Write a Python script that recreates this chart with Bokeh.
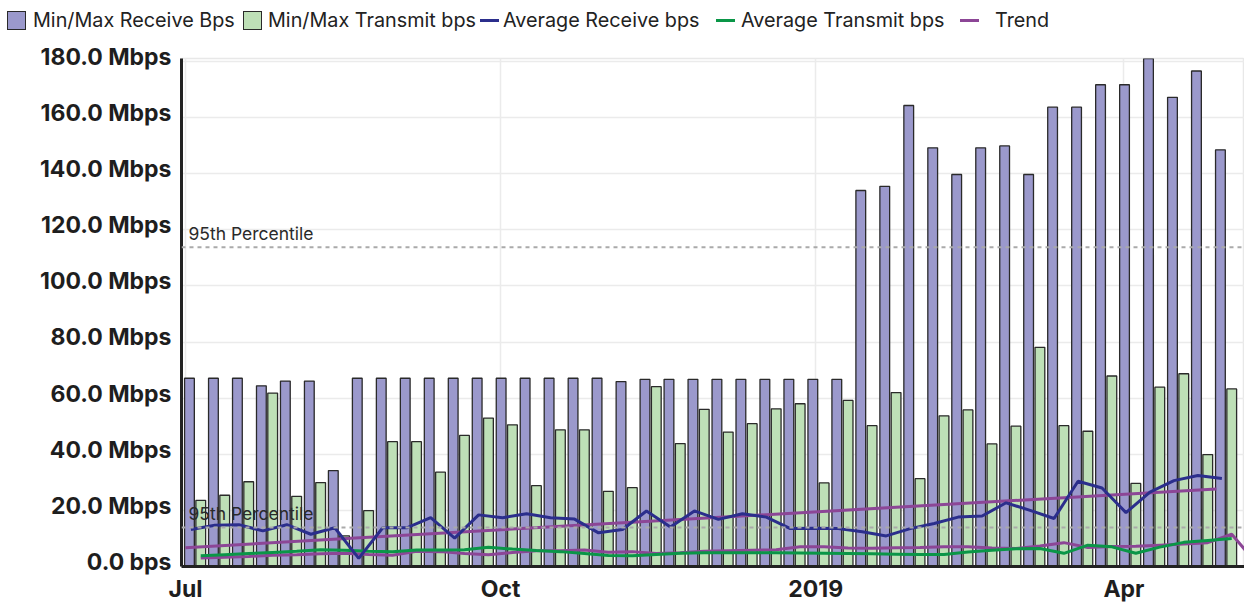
import pandas as pd
from bokeh.plotting import figure
from bokeh.layouts import column
from bokeh.models import (ColumnDataSource, Span, Label, FixedTicker, Range1d, Div)
from bokeh.transform import dodge
from bokeh.embed import file_html
from bokeh.resources import INLINE

# ---------------- data ----------------
first_week = "2018-07-01"
n_weeks = 44
weeks = pd.date_range(first_week, periods=n_weeks, freq="7D")
weeks_ext = pd.date_range(first_week, periods=n_weeks + 1, freq="7D")

# Min/Max Receive (Mbps)
recv_max = [67.1, 67.1, 67.1, 64.4, 66.1, 66.1, 34.2, 67.1, 67.1, 67.1,
            67.1, 67.1, 67.1, 67.1, 67.1, 67.1, 67.1, 67.1, 65.9, 66.7,
            66.7, 66.7, 66.7, 66.7, 66.7, 66.7, 66.7, 66.7, 134.0, 135.5,
            164.3, 149.2, 139.7, 149.2, 149.9, 139.7, 163.7, 163.7, 171.7, 171.7,
            182.0, 167.2, 176.6, 148.5]
# Min/Max Transmit (Mbps)
trans_max = [23.6, 25.4, 30.2, 61.8, 25.0, 29.9, 10.9, 19.9, 44.5, 44.5,
             33.6, 46.7, 52.9, 50.5, 28.8, 48.7, 48.7, 26.8, 28.1, 64.1,
             43.8, 56.0, 47.9, 50.9, 56.2, 58.0, 29.8, 59.2, 50.2, 62.0,
             31.3, 53.7, 55.8, 43.7, 50.0, 78.1, 50.2, 48.2, 67.9, 29.6,
             63.9, 68.7, 39.9, 63.3]
# Average Receive (Mbps)
avg_recv = [13.2, 14.7, 14.9, 12.7, 14.9, 11.5, 13.8, 2.9, 13.8, 13.8,
            17.4, 10.1, 18.4, 17.4, 18.8, 17.4, 16.9, 12.0, 13.2, 19.8,
            14.1, 19.8, 16.8, 18.8, 17.6, 13.5, 13.6, 13.5, 12.4, 10.9,
            13.5, 15.3, 17.6, 18.0, 22.7, 20.0, 17.1, 30.4, 28.0, 19.2,
            26.5, 30.6, 32.4, 31.4]
# Average Transmit (Mbps)
avg_trans = [3.8, 4.2, 4.6, 5.0, 5.4, 6.0, 5.8, 5.4, 5.3, 5.9,
             5.9, 6.0, 6.9, 6.2, 5.7, 5.3, 4.6, 3.9, 3.8, 4.3,
             4.7, 4.9, 4.9, 4.9, 4.9, 4.8, 4.7, 4.6, 4.5, 4.4,
             4.3, 4.3, 5.2, 5.8, 6.3, 6.4, 4.7, 7.6, 7.0, 4.7,
             6.9, 8.6, 9.3, 10.0]
# Transmit trend (Mbps), one point per week plus one beyond the last
trend_trans = [3.0, 3.3, 3.6, 4.0, 4.2, 4.5, 4.7, 4.3, 4.0, 5.4,
               5.3, 4.6, 4.2, 5.0, 5.6, 5.6, 5.9, 5.1, 5.3, 4.6,
               4.9, 5.4, 5.6, 5.8, 6.0, 7.0, 7.0, 6.6, 6.5, 6.7,
               6.8, 7.0, 7.0, 6.6, 6.4, 7.3, 8.5, 6.8, 7.1, 7.2,
               7.6, 8.0, 8.5, 11.5, 1.5]
# Receive trend (Mbps) at first and last week
trend_recv = [6.7, 27.6]

p95_recv = 113.8
p95_trans = 13.9

x_tick_dates = ["2018-07-01", "2018-10-01", "2019-01-01", "2019-04-01"]
x_tick_labels = ["Jul", "Oct", "2019", "Apr"]
y_ticks = [0, 20, 40, 60, 80, 100, 120, 140, 160, 180]
y_tick_labels = ["0.0 bps", "20.0 Mbps", "40.0 Mbps", "60.0 Mbps", "80.0 Mbps",
                 "100.0 Mbps", "120.0 Mbps", "140.0 Mbps", "160.0 Mbps", "180.0 Mbps"]

legend_labels = ["Min/Max Receive Bps", "Min/Max Transmit bps",
                 "Average Receive bps", "Average Transmit bps", "Trend"]

# ---------------- styling ----------------
DAY = 86400000.0
FONT = "Inter"
RECV_FILL = "#9b99cc"
TRANS_FILL = "#bee0b7"
BAR_LINE = "#2a2a2a"
BLUE = "#2b2e8c"
GREEN = "#0a9647"
PURPLE = "#8c4696"
W = 1244
LEG_H = 40


def ms(d):
    return pd.Timestamp(d).value / 1e6


src = ColumnDataSource(dict(week=weeks, recv=recv_max, trans=trans_max,
                            avg_recv=avg_recv, avg_trans=avg_trans))
src_tr = ColumnDataSource(dict(week=weeks_ext, tr=trend_trans))
src_trend = ColumnDataSource(dict(week=[weeks[0], weeks[-1]], tr=trend_recv))

x_range = Range1d(start=ms(weeks[0]) - 1.15 * DAY, end=ms(weeks[-1]) + 8.2 * DAY)
y_range = Range1d(start=0, end=181.05)

p = figure(width=W, height=605 - LEG_H, x_axis_type="datetime",
           x_range=x_range, y_range=y_range,
           output_backend="svg", toolbar_location=None,
           min_border_left=181, min_border_right=0,
           min_border_top=58 - LEG_H, min_border_bottom=37)
p.background_fill_color = "white"
p.border_fill_color = "white"
p.outline_line_color = "#e8e8e8"
p.outline_line_width = 1.5

bw = 2.85 * DAY
bar_style = dict(line_color=BAR_LINE, line_width=1.3)
p.vbar(x=dodge("week", 1.17 * DAY, range=x_range), top="recv", bottom=0,
       width=bw, source=src, fill_color=RECV_FILL, **bar_style)
p.vbar(x=dodge("week", 4.47 * DAY, range=x_range), top="trans", bottom=0,
       width=bw, source=src, fill_color=TRANS_FILL, **bar_style)

for val in (p95_recv, p95_trans):
    p.add_layout(Span(location=val, dimension="width", line_color="#aaaaaa",
                      line_dash="4 4", line_width=2))
    p.add_layout(Label(x=x_range.start, y=val, x_offset=7, y_offset=3,
                       text="95th Percentile", text_font=FONT,
                       text_font_size="17.5px", text_color="#2a2a2a",
                       text_baseline="bottom"))

p.line(x="week", y="tr", source=src_trend, line_color=PURPLE, line_width=3)
p.line(x=dodge("week", 4.47 * DAY, range=x_range), y="tr", source=src_tr,
       line_color=PURPLE, line_width=3)
p.line(x=dodge("week", 4.47 * DAY, range=x_range), y="avg_trans",
       source=src, line_color=GREEN, line_width=3)
p.line(x=dodge("week", 1.6 * DAY, range=x_range), y="avg_recv",
       source=src, line_color=BLUE, line_width=3)

# axes
p.xaxis.ticker = FixedTicker(ticks=[ms(d) for d in x_tick_dates])
p.xaxis.major_label_overrides = {ms(d): lab for d, lab in zip(x_tick_dates, x_tick_labels)}
p.yaxis.ticker = FixedTicker(ticks=y_ticks)
p.yaxis.major_label_overrides = {t: lab + "\n " for t, lab in zip(y_ticks, y_tick_labels)}
for ax in (p.xaxis[0], p.yaxis[0]):
    ax.axis_line_color = "#222222"
    ax.axis_line_width = 3
    ax.major_tick_line_color = None
    ax.minor_tick_line_color = None
    ax.major_tick_out = 0
    ax.major_tick_in = 0
    ax.major_label_text_font = FONT
    ax.major_label_text_font_size = "23px"
    ax.major_label_text_font_style = "bold"
    ax.major_label_text_color = "#1e1e1e"
p.yaxis.major_label_standoff = 10
p.yaxis.major_label_text_line_height = 0.33
p.xaxis.major_label_standoff = 8

p.xgrid.grid_line_color = "#ebebeb"
p.xgrid.grid_line_width = 1.5
p.ygrid.grid_line_color = "#ebebeb"
p.ygrid.grid_line_width = 1.5

# ---------------- legend strip ----------------
# (swatch left, text left) for each legend entry, in px
leg_pos = [(7, 33), (243, 268), (480, 503), (716, 741), (960, 995)]
leg_kind = ["box", "box", "line", "line", "line"]
leg_color = [RECV_FILL, TRANS_FILL, BLUE, GREEN, PURPLE]
parts = []
for (sx, tx), kind, col, lab in zip(leg_pos, leg_kind, leg_color, legend_labels):
    if kind == "box":
        parts.append(
            f'<span style="position:absolute;left:{sx}px;top:11px;width:19px;height:19px;'
            f'box-sizing:border-box;background:{col};border:1.3px solid {BAR_LINE};"></span>')
    else:
        parts.append(
            f'<span style="position:absolute;left:{sx}px;top:19px;width:19px;height:3px;'
            f'background:{col};"></span>')
    parts.append(
        f'<span style="position:absolute;left:{tx}px;top:0px;line-height:{LEG_H}px;'
        f'white-space:nowrap;">{lab}</span>')
leg_html = (f'<div style="position:relative;width:{W}px;height:{LEG_H}px;'
            f'font-family:{FONT};font-size:19.8px;color:#222222;">' + "".join(parts) + "</div>")
leg_div = Div(text=leg_html, width=W, height=LEG_H, margin=0)

layout = column(leg_div, p, spacing=0)
open("out.html", "w").write(file_html(layout, INLINE))
